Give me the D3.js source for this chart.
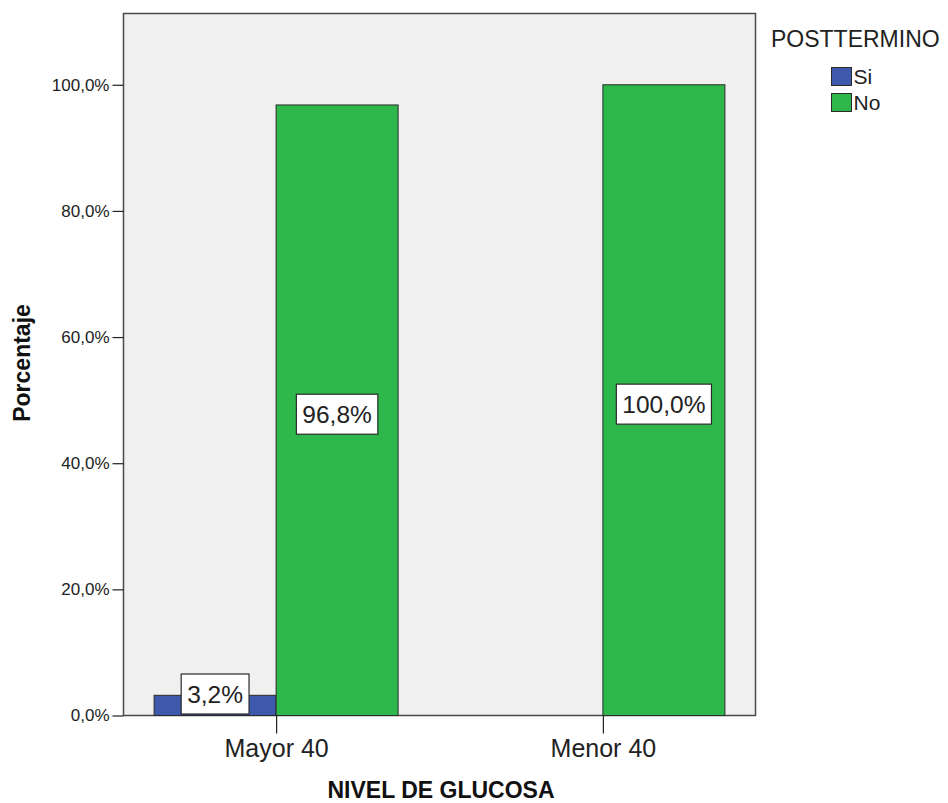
<!DOCTYPE html>
<html lang="en">
<head>
<meta charset="utf-8">
<title>NIVEL DE GLUCOSA</title>
<script src="https://d3js.org/d3.v7.min.js"></script>
<style>
  body { margin: 0; background: #fff; }
  text { font-family: "Liberation Sans", Arial, sans-serif; }
</style>
</head>
<body>
<div id="chart"></div>
<script>
// data
var categories = ["Mayor 40", "Menor 40"];
var seriesNames = ["Si", "No"];
var siValues = [3.2, 0];
var noValues = [96.8, 100.0];
var yTicks = [0, 20, 40, 60, 80, 100];
var colors = { Si: "#3e58ac", No: "#2eb84b" };

var width = 948, height = 803;
var plot = { left: 123.5, top: 13.5, right: 755.5, bottom: 715.5 };

var svg = d3.select("#chart").append("svg")
    .attr("width", width)
    .attr("height", height);

var y = d3.scaleLinear()
    .domain([0, 111.3])
    .range([plot.bottom, plot.top]);

var x = d3.scalePoint()
    .domain(categories)
    .range([plot.left, plot.right])
    .padding(0.467);

var inner = d3.scaleBand()
    .domain(seriesNames)
    .range([-122, 122]);

function pct(v) { return d3.format(".1f")(v).replace(".", ",") + "%"; }

// plot background
svg.append("rect")
    .attr("x", plot.left).attr("y", plot.top)
    .attr("width", plot.right - plot.left)
    .attr("height", plot.bottom - plot.top)
    .attr("fill", "#f0f0f0")
    .attr("stroke", "#4a4a4a")
    .attr("stroke-width", 1.5);

var rows = [];
categories.forEach(function (c, i) {
    rows.push({ cat: c, s: "Si", v: siValues[i] });
    rows.push({ cat: c, s: "No", v: noValues[i] });
});
var shown = rows.filter(function (d) { return d.v > 0; });

// bars
svg.selectAll(".bar")
    .data(shown)
    .enter().append("rect")
    .attr("class", "bar")
    .attr("x", function (d) { return x(d.cat) + inner(d.s); })
    .attr("y", function (d) { return y(d.v); })
    .attr("width", inner.bandwidth())
    .attr("height", function (d) { return y(0) - y(d.v); })
    .attr("fill", function (d) { return colors[d.s]; })
    .attr("stroke", "#2a2a2a")
    .attr("stroke-width", 1);

// y axis
var yAxis = svg.append("g")
    .attr("transform", "translate(" + plot.left + ",0)")
    .call(d3.axisLeft(y).tickValues(yTicks).tickSize(11).tickPadding(3).tickFormat(pct));
yAxis.select(".domain").remove();
yAxis.selectAll("line").attr("stroke", "#222").attr("stroke-width", 1.2);
yAxis.selectAll("text").attr("font-size", "17px").attr("fill", "#222")
    .style("font-family", "'Liberation Sans', Arial, sans-serif");

// x axis
var xAxis = svg.append("g")
    .attr("transform", "translate(0," + plot.bottom + ")")
    .call(d3.axisBottom(x).tickSize(18).tickPadding(6));
xAxis.select(".domain").remove();
xAxis.selectAll("line").attr("stroke", "#222").attr("stroke-width", 1.2);
xAxis.selectAll("text").attr("font-size", "25px").attr("fill", "#222")
    .style("font-family", "'Liberation Sans', Arial, sans-serif");

// value labels
svg.selectAll(".lab")
    .data(shown)
    .enter().append("g")
    .attr("class", "lab")
    .each(function (d) {
        var g = d3.select(this);
        var cx = x(d.cat) + inner(d.s) + inner.bandwidth() / 2;
        var cy = (y(d.v) + y(0)) / 2 + 4;
        var boxH = 40;
        if (cy + boxH / 2 > plot.bottom - 1.5) cy = plot.bottom - 1.5 - boxH / 2;
        var t = g.append("text")
            .attr("x", cx).attr("y", cy)
            .attr("text-anchor", "middle")
            .attr("dy", "0.36em")
            .attr("font-size", "24.5px")
            .attr("fill", "#222")
            .text(pct(d.v));
        var w = t.node().getComputedTextLength() + 12;
        g.insert("rect", "text")
            .attr("x", cx - w / 2).attr("y", cy - boxH / 2)
            .attr("width", w).attr("height", boxH)
            .attr("fill", "#fff")
            .attr("stroke", "#2a2a2a")
            .attr("stroke-width", 1.2);
    });

// axis titles
svg.append("text")
    .attr("transform", "translate(30,363) rotate(-90)")
    .attr("text-anchor", "middle")
    .attr("font-size", "23px")
    .attr("font-weight", "bold")
    .attr("fill", "#111")
    .text("Porcentaje");

svg.append("text")
    .attr("x", 441).attr("y", 798)
    .attr("text-anchor", "middle")
    .attr("font-size", "23px")
    .attr("font-weight", "bold")
    .attr("fill", "#111")
    .text("NIVEL DE GLUCOSA");

// legend
svg.append("text")
    .attr("x", 771).attr("y", 47)
    .attr("font-size", "23px")
    .attr("fill", "#222")
    .text("POSTTERMINO");

var leg = svg.selectAll(".leg")
    .data(seriesNames)
    .enter().append("g")
    .attr("class", "leg")
    .attr("transform", function (d, i) { return "translate(831.5," + (67.5 + i * 26) + ")"; });
leg.append("rect")
    .attr("width", 20).attr("height", 18)
    .attr("fill", function (d) { return colors[d]; })
    .attr("stroke", "#2a2a2a");
leg.append("text")
    .attr("x", 22).attr("y", 9)
    .attr("dy", "0.36em")
    .attr("font-size", "21px")
    .attr("fill", "#222")
    .text(function (d) { return d; });
</script>
</body>
</html>
